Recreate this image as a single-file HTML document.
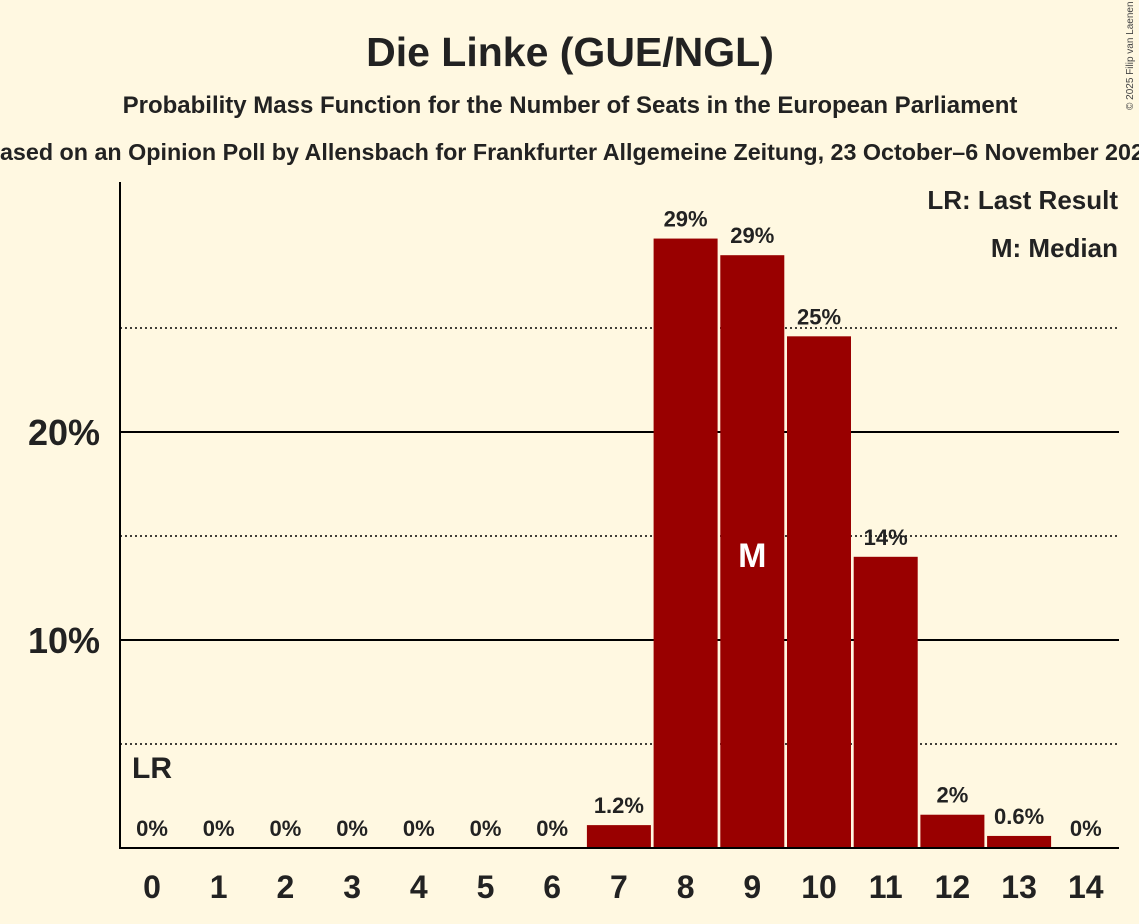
<!DOCTYPE html>
<html><head><meta charset="utf-8"><style>
body{margin:0;background:#fff8e1;}
svg{display:block;font-family:"Liberation Sans",sans-serif;}
</style></head><body>
<svg id="c" width="1139" height="924">
<rect width="1139" height="924" fill="#fff8e1"/>
<text x="570" y="66" text-anchor="middle" font-size="41" font-weight="bold" fill="#222">Die Linke (GUE/NGL)</text>
<text x="570" y="113" text-anchor="middle" font-size="24" font-weight="bold" fill="#222">Probability Mass Function for the Number of Seats in the European Parliament</text>
<text x="570" y="160" text-anchor="middle" font-size="23.3" font-weight="bold" fill="#222">Based on an Opinion Poll by Allensbach for Frankfurter Allgemeine Zeitung, 23 October–6 November 2025</text>
<text x="1133" y="110" font-size="10" fill="#444" transform="rotate(-90 1133 110)">© 2025 Filip van Laenen</text>
<g id="grid"></g>
<g id="bars"></g>
<line x1="120" y1="182" x2="120" y2="849" stroke="#000" stroke-width="2"/>
<line x1="119" y1="848" x2="1119" y2="848" stroke="#000" stroke-width="2"/>
<text x="1118" y="209" text-anchor="end" font-size="26" font-weight="bold" fill="#222">LR: Last Result</text>
<text x="1118" y="257" text-anchor="end" font-size="26" font-weight="bold" fill="#222">M: Median</text>
<text x="132" y="778" font-size="30" font-weight="bold" fill="#222">LR</text>
</svg>
<script>
const categories=[0,1,2,3,4,5,6,7,8,9,10,11,12,13,14];
const values=[0,0,0,0,0,0,0,1.1,29.3,28.5,24.6,14.0,1.6,0.58,0];
const labels=["0%","0%","0%","0%","0%","0%","0%","1.2%","29%","29%","25%","14%","2%","0.6%","0%"];
const yTicks=[10,20];
const yMinor=[5,15,25];
const medianIndex=9;
const NS="http://www.w3.org/2000/svg";
const y=v=>848-v*20.8;
const x=i=>152+i*66.7;
function mk(t,a,p){const e=document.createElementNS(NS,t);for(const k in a)e.setAttribute(k,a[k]);p.appendChild(e);return e;}
const g=document.getElementById('grid'),b=document.getElementById('bars'),svg=document.getElementById('c');
yMinor.forEach(v=>{const l=mk('line',{x1:120,x2:1119,y1:y(v),y2:y(v),stroke:'#000','stroke-width':1.5,'stroke-dasharray':'2,3'},g);

});
yTicks.forEach(v=>{const l=mk('line',{x1:120,x2:1119,y1:y(v),y2:y(v),stroke:'#000','stroke-width':2},g);


const t=mk('text',{x:100,y:y(v)+13,'text-anchor':'end','font-size':36,'font-weight':'bold',fill:'#222'},g);t.textContent=v+'%';

});
categories.forEach((c,i)=>{
 const v=values[i];
 if(v>0){const r=mk('rect',{x:x(i)-32,y:y(v),width:64,height:848-y(v),fill:'#990000'},b);
 
 }
 const t=mk('text',{x:x(i),y:(v>0?y(v):848)-12,'text-anchor':'middle','font-size':22,'font-weight':'bold',fill:'#222'},b);t.textContent=labels[i];
 
 
 const xl=mk('text',{x:x(i),y:898,'text-anchor':'middle','font-size':32,'font-weight':'bold',fill:'#222'},b);xl.textContent=c;
 
 
 if(i===medianIndex){const m=mk('text',{x:x(i),y:567,'text-anchor':'middle','font-size':34,'font-weight':'bold',fill:'#fff'},b);m.textContent='M';
 
 }
});
</script>
</body></html>
